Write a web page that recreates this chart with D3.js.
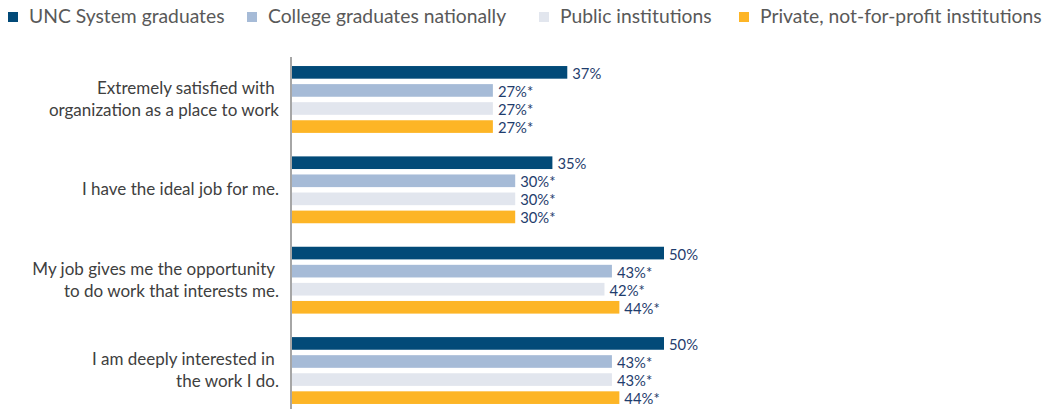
<!DOCTYPE html>
<html>
<head>
<meta charset="utf-8">
<script src="https://cdn.jsdelivr.net/npm/d3@7"></script>
<style>
  body { margin: 0; background: #fff; }
  svg { display: block; font-family: Lato, "Open Sans", sans-serif; }
</style>
</head>
<body>
<div class="chart"></div>
<script>
// data
var categories = [
  ['Extremely satisfied with ', 'organization as a place to work'],
  ['I have the ideal job for me.'],
  ['My job gives me the opportunity ', 'to do work that interests me.'],
  ['I am deeply interested in ', 'the work I do.']
];
var seriesNames = ['UNC System graduates', 'College graduates nationally', 'Public institutions', 'Private, not-for-profit institutions'];
var unc       = [37, 35, 50, 50];
var national  = [27, 30, 43, 43];
var publicInst = [27, 30, 42, 43];
var privateInst = [27, 30, 44, 44];
var significant = [false, true, true, true]; // asterisk on all but UNC

var seriesValues = [unc, national, publicInst, privateInst];
var colors = ['#024a78', '#a6bbd7', '#e2e6ee', '#fdb526'];

var width = 1049, height = 409;

var svg = d3.select('.chart')
    .append('svg')
    .attr('width', width)
    .attr('height', height);

// scales
var x = d3.scaleLinear().domain([0, 50]).range([292, 664]);

var y0 = d3.scaleBand()
    .domain(d3.range(categories.length))
    .range([57, 413])
    .paddingInner(0.2)
    .paddingOuter(0.07);

var y1 = d3.scaleBand()
    .domain(d3.range(seriesNames.length))
    .range([0, y0.bandwidth()])
    .paddingInner(0.3)
    .paddingOuter(0.15);

// legend
var legendX = [8, 247, 539, 739];
var legend = svg.append('g').attr('class', 'legend');
seriesNames.forEach(function(name, i){
    legend.append('rect')
        .attr('x', legendX[i])
        .attr('y', 12)
        .attr('width', 10)
        .attr('height', 10)
        .attr('fill', colors[i]);
    legend.append('text')
        .attr('x', legendX[i] + 21)
        .attr('y', 23)
        .attr('font-size', 19.3)
        .attr('fill', '#595959')
        .text(name);
});

// groups
var groups = svg.selectAll('g.group')
    .data(categories)
    .enter()
    .append('g')
    .attr('class', 'group')
    .attr('transform', function(d, i){ return 'translate(0,' + y0(i) + ')'; });

groups.each(function(cat, ci){
    var g = d3.select(this);
    var rows = seriesValues.map(function(vals, si){ return {s: si, v: vals[ci]}; });

    g.selectAll('rect')
        .data(rows)
        .enter()
        .append('rect')
        .attr('x', x(0))
        .attr('y', function(d){ return y1(d.s); })
        .attr('width', function(d){ return x(d.v) - x(0); })
        .attr('height', y1.bandwidth())
        .attr('fill', function(d){ return colors[d.s]; });

    g.selectAll('text.value')
        .data(rows)
        .enter()
        .append('text')
        .attr('class', 'value')
        .attr('x', function(d){ return x(d.v) + 5; })
        .attr('y', function(d){ return y1(d.s) + y1.bandwidth() / 2 + 6.5; })
        .attr('font-size', 14.8)
        .attr('fill', '#1f3d6d')
        .text(function(d){ return d.v + '%' + (significant[d.s] ? '*' : ''); });

    var lh = 22;
    var mid = y0.bandwidth() / 2;
    g.selectAll('text.cat')
        .data(cat)
        .enter()
        .append('text')
        .attr('class', 'cat')
        .attr('x', 279)
        .attr('y', function(d, li){ return mid + (li - (cat.length - 1) / 2) * lh + 5.5; })
        .attr('text-anchor', 'end')
        .attr('font-size', 17)
        .attr('fill', '#404040')
        .style('white-space', 'pre')
        .text(function(d){ return d; });
});

// axis line
svg.append('line')
    .attr('x1', 291).attr('x2', 291)
    .attr('y1', 57).attr('y2', height)
    .attr('stroke', '#a6a6a6')
    .attr('stroke-width', 2);
</script>
</body>
</html>
